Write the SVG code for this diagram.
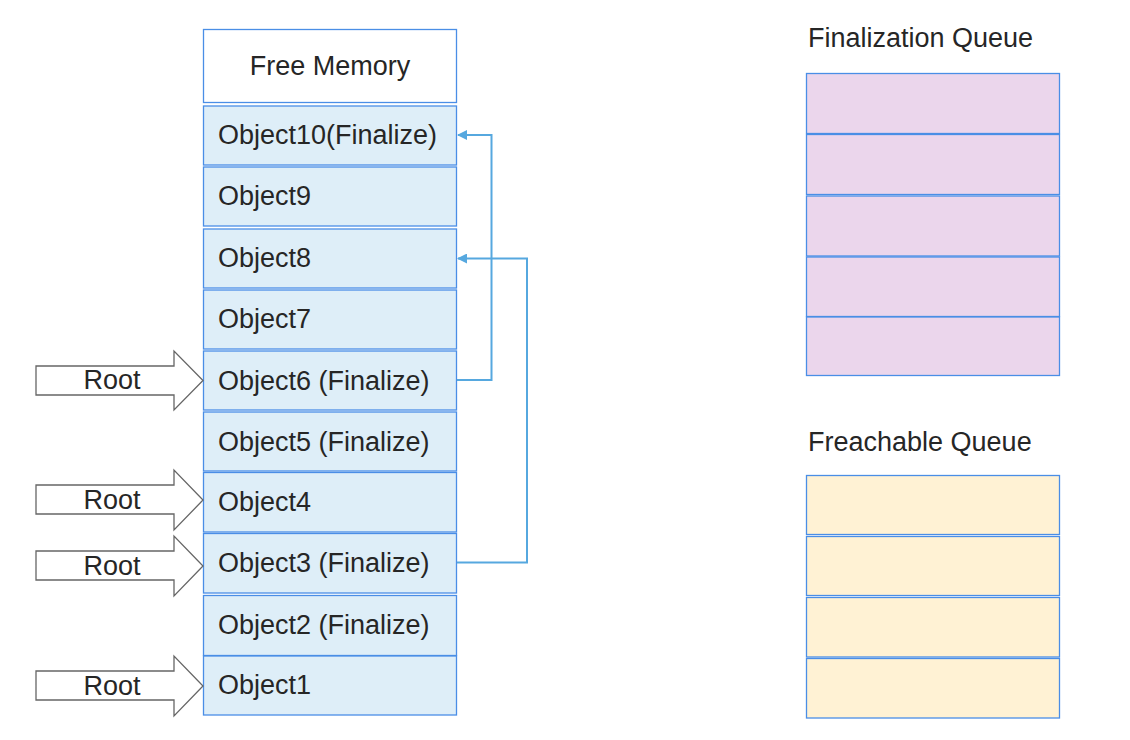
<svg xmlns="http://www.w3.org/2000/svg" width="1130" height="740" viewBox="0 0 1130 740">
<style>
text{font-family:"Liberation Sans",Arial,sans-serif;font-size:27px;fill:#262626}
.cell{fill:#deeef8;stroke:#4a8ee6;stroke-width:1.3}
.free{fill:#ffffff;stroke:#4a8ee6;stroke-width:1.3}
.fq{fill:#ebd6ec;stroke:#4a8ee6;stroke-width:1.3}
.rq{fill:#fff2d4;stroke:#4a8ee6;stroke-width:1.3}
.root{fill:#ffffff;stroke:#666666;stroke-width:1.3}
.conn{fill:none;stroke:#56a8df;stroke-width:2}
.mid{text-anchor:middle}
</style>
<defs>
<marker id="ah" markerWidth="10" markerHeight="10" refX="9" refY="5" orient="auto" markerUnits="userSpaceOnUse">
<path d="M0,0 L10,5 L0,10 Z" fill="#56a8df"/>
</marker>
</defs>
<g id="free-memory"><rect class="free" x="203.5" y="29.5" width="253" height="73"/><text class="mid" x="330" y="75">Free Memory</text></g>
<g id="object10"><rect class="cell" x="203.5" y="106" width="253" height="59"/><text x="218" y="144">Object10(Finalize)</text></g>
<g id="object9"><rect class="cell" x="203.5" y="167" width="253" height="59"/><text x="218" y="205">Object9</text></g>
<g id="object8"><rect class="cell" x="203.5" y="229" width="253" height="59"/><text x="218" y="267">Object8</text></g>
<g id="object7"><rect class="cell" x="203.5" y="290" width="253" height="59"/><text x="218" y="328">Object7</text></g>
<g id="object6"><rect class="cell" x="203.5" y="351" width="253" height="59"/><text x="218" y="390">Object6 (Finalize)</text></g>
<g id="object5"><rect class="cell" x="203.5" y="412" width="253" height="59"/><text x="218" y="451">Object5 (Finalize)</text></g>
<g id="object4"><rect class="cell" x="203.5" y="472.5" width="253" height="59.5"/><text x="218" y="511">Object4</text></g>
<g id="object3"><rect class="cell" x="203.5" y="533.5" width="253" height="59.5"/><text x="218" y="572">Object3 (Finalize)</text></g>
<g id="object2"><rect class="cell" x="203.5" y="595.5" width="253" height="60"/><text x="218" y="634">Object2 (Finalize)</text></g>
<g id="object1"><rect class="cell" x="203.5" y="656" width="253" height="59"/><text x="218" y="694">Object1</text></g>

<g id="root6"><path class="root" d="M36,366 L174,366 L174,351 L203,380.5 L174,410 L174,395 L36,395 Z"/><text class="mid" x="112" y="389">Root</text></g>
<g id="root4"><path class="root" d="M36,485 L174,485 L174,470 L203,500 L174,530 L174,514 L36,514 Z"/><text class="mid" x="112" y="508.5">Root</text></g>
<g id="root3"><path class="root" d="M36,551 L174,551 L174,536 L203,566 L174,596 L174,580 L36,580 Z"/><text class="mid" x="112" y="575">Root</text></g>
<g id="root1"><path class="root" d="M36,671 L174,671 L174,656 L203,686 L174,716 L174,700 L36,700 Z"/><text class="mid" x="112" y="694.5">Root</text></g>

<g id="connectors">
<path class="conn" d="M457,380 L491.5,380 L491.5,135 L458,135" marker-end="url(#ah)"/>
<path class="conn" d="M457,562.5 L527,562.5 L527,258.5 L458,258.5" marker-end="url(#ah)"/>
</g>

<g id="finalization-queue">
<text x="808" y="47">Finalization Queue</text>
<rect class="fq" x="806.5" y="73.5" width="253" height="60"/>
<rect class="fq" x="806.5" y="134.5" width="253" height="60"/>
<rect class="fq" x="806.5" y="196" width="253" height="60"/>
<rect class="fq" x="806.5" y="257" width="253" height="59.5"/>
<rect class="fq" x="806.5" y="317" width="253" height="58.5"/>
</g>
<g id="freachable-queue">
<text x="808" y="451">Freachable Queue</text>
<rect class="rq" x="806.5" y="475.5" width="253" height="59"/>
<rect class="rq" x="806.5" y="536.5" width="253" height="59"/>
<rect class="rq" x="806.5" y="597.5" width="253" height="59.5"/>
<rect class="rq" x="806.5" y="658.5" width="253" height="59.5"/>
</g>
</svg>
